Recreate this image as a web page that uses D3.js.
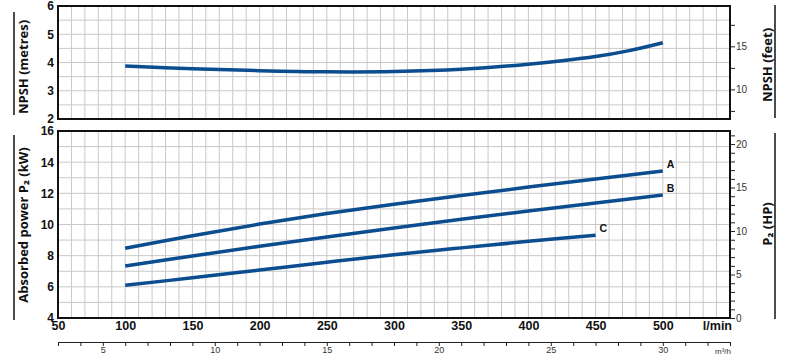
<!DOCTYPE html>
<html><head><meta charset="utf-8">
<script src="https://cdn.jsdelivr.net/npm/d3@7"></script>
<style>
body{margin:0;background:#fff;}
svg{display:block;}
</style></head>
<body>
<script>
// ---- data ----
const flow = [100,150,200,250,300,350,400,450,500];           // l/min
const npshFlow = [100,150,200,250,300,350,400,450,475,500];
const npsh = [3.88,3.78,3.71,3.67,3.68,3.76,3.94,4.21,4.42,4.70];  // metres
const powerA = [8.47,9.28,10.03,10.70,11.30,11.86,12.40,12.92,13.43]; // kW
const powerB = [7.34,7.98,8.60,9.20,9.78,10.33,10.86,11.38,11.89];
const flowC = [100,150,200,250,300,350,400,450];
const powerC = [6.10,6.58,7.08,7.58,8.06,8.50,8.92,9.31];
const curveNames = ["A","B","C"];
const xTicks = [50,100,150,200,250,300,350,400,450,500];
const npshTicks = [2,3,4,5,6];
const kwTicks = [4,6,8,10,12,14,16];
const feetTicks = [7.5,10,12.5,15,17.5];
const hpTicks = d3.range(0,22,1);
const m3Ticks = d3.range(3,34,1);

const W=793,H=360;
const svg=d3.select("body").append("svg").attr("width",W).attr("height",H);

const L=58,R=730, T1=6,B1=119, T2=131,B2=318;
const x=d3.scaleLinear().domain([50,550]).range([L,R]);
const yTop=d3.scaleLinear().domain([2,6]).range([B1,T1]);
const yBot=d3.scaleLinear().domain([4,16]).range([B2,T2]);
const yFt=d3.scaleLinear().domain([2*3.28084,6*3.28084]).range([B1,T1]);
const yHp=d3.scaleLinear().domain([0,21.5]).range([B2,T2]);
const xM3=d3.scaleLinear().domain([3,33]).range([L,R]);

const grid="#c9c9c9";
const lineCol="#0b4d8f";
const boldFont='"Liberation Sans Narrow","Liberation Sans",Arial,sans-serif';

// grids
function grid2(top,bot,yScale,yVals){
  const g=svg.append("g");
  g.selectAll("line.v").data(d3.range(60,550,10)).join("line")
    .attr("x1",d=>x(d)).attr("x2",d=>x(d)).attr("y1",top).attr("y2",bot)
    .attr("stroke",grid).attr("stroke-width",1);
  g.selectAll("line.h").data(yVals).join("line")
    .attr("x1",L).attr("x2",R).attr("y1",d=>yScale(d)).attr("y2",d=>yScale(d))
    .attr("stroke",grid).attr("stroke-width",1);
}
grid2(T1,B1,yTop,d3.range(2.5,6,0.5));
grid2(T2,B2,yBot,d3.range(5,16,1));

// curves
const smooth=d3.curveCatmullRom.alpha(0.5);
const lineTop=d3.line().x((d,i)=>x(npshFlow[i])).y(d=>yTop(d)).curve(smooth);
svg.append("path").attr("d",lineTop(npsh)).attr("fill","none").attr("stroke",lineCol).attr("stroke-width",3.5);

const lp=(fl)=>d3.line().x((d,i)=>x(fl[i])).y(d=>yBot(d)).curve(smooth);
[[powerA,flow],[powerB,flow],[powerC,flowC]].forEach(([v,f],k)=>{
  svg.append("path").attr("d",lp(f)(v)).attr("fill","none").attr("stroke",lineCol).attr("stroke-width",3.5);
  svg.append("text").attr("x",x(f[f.length-1])+4).attr("y",yBot(v[v.length-1])-3)
    .attr("font-family",'"Liberation Sans",Arial,sans-serif').attr("font-weight","bold").attr("font-size",10.5)
    .attr("fill","#111").text(curveNames[k]);
});

// frames
[[T1,B1],[T2,B2]].forEach(([t,b])=>{
  svg.append("rect").attr("x",L).attr("y",t).attr("width",R-L).attr("height",b-t)
    .attr("fill","none").attr("stroke","#111").attr("stroke-width",2);
});

// left axes
function styleBold(g,size){
  g.select(".domain").remove();
  g.selectAll("text").attr("font-family",boldFont).attr("font-weight","bold").attr("font-size",size).attr("fill","#111");
}
const axT=svg.append("g").attr("transform",`translate(${L},0)`)
  .call(d3.axisLeft(yTop).tickValues(npshTicks).tickSize(0).tickPadding(4).tickFormat(d3.format("d")));
styleBold(axT,12);
const axB=svg.append("g").attr("transform",`translate(${L},0)`)
  .call(d3.axisLeft(yBot).tickValues(kwTicks).tickSize(0).tickPadding(4).tickFormat(d3.format("d")));
styleBold(axB,12);
const axX=svg.append("g").attr("transform",`translate(0,${B2})`)
  .call(d3.axisBottom(x).tickValues(xTicks).tickSize(0).tickPadding(3).tickFormat(d3.format("d")));
styleBold(axX,12.5);
svg.append("text").attr("x",732).attr("y",330).attr("text-anchor","end")
  .attr("font-family",boldFont).attr("font-weight","bold").attr("font-size",12.5).attr("fill","#111").text("l/min");

// right axes
function styleThin(g,size){
  g.select(".domain").remove();
  g.selectAll("line").attr("stroke","#222");
  g.selectAll("text").attr("font-family",boldFont).attr("font-size",size).attr("fill","#333");
}
const axF=svg.append("g").attr("transform",`translate(${R},0)`)
  .call(d3.axisRight(yFt).tickValues(feetTicks).tickSize(5).tickPadding(1).tickFormat(d=>d%5===0?d:""));
styleThin(axF,10);
const axH=svg.append("g").attr("transform",`translate(${R},0)`)
  .call(d3.axisRight(yHp).tickValues(hpTicks).tickSize(5).tickPadding(1).tickFormat(d=>d%5===0?d:""));
styleThin(axH,10);

// m3/h axis
const axM=svg.append("g").attr("transform",`translate(0,342)`)
  .call(d3.axisBottom(xM3).tickValues(m3Ticks).tickSize(4).tickSizeOuter(0).tickPadding(1).tickFormat(d=>d%5===0?d:""));
axM.select(".domain").attr("stroke","#222").attr("stroke-width",1.2);
axM.selectAll("line").attr("stroke","#222");
axM.selectAll("text").attr("font-family",boldFont).attr("font-size",9).attr("fill","#333");
svg.append("text").attr("x",731).attr("y",354).attr("text-anchor","end")
  .attr("font-family",boldFont).attr("font-size",8).attr("fill","#333").text("m³/h");

// titles
function vtitle(cx,cy,txt,size){
  svg.append("text").attr("transform",`translate(${cx},${cy}) rotate(-90)`)
    .attr("text-anchor","middle").attr("dy","0.35em")
    .attr("font-family",'"Open Sans","DejaVu Sans",sans-serif').attr("font-weight","bold")
    .attr("font-size",size).attr("fill","#111").text(txt);
}
vtitle(23,67,"NPSH  (metres)",13);
vtitle(23,225,"Absorbed power  P₂ (kW)",13);
vtitle(767,65,"NPSH  (feet)",13);
vtitle(767,224,"P₂  (HP)",13);

// side rules
[[14,12,115],[14,135,320],[775,5,118],[775,133,319]].forEach(([xx,a,b])=>{
  svg.append("line").attr("x1",xx).attr("x2",xx).attr("y1",a).attr("y2",b).attr("stroke","#111").attr("stroke-width",1.5);
});
</script>
</body></html>
